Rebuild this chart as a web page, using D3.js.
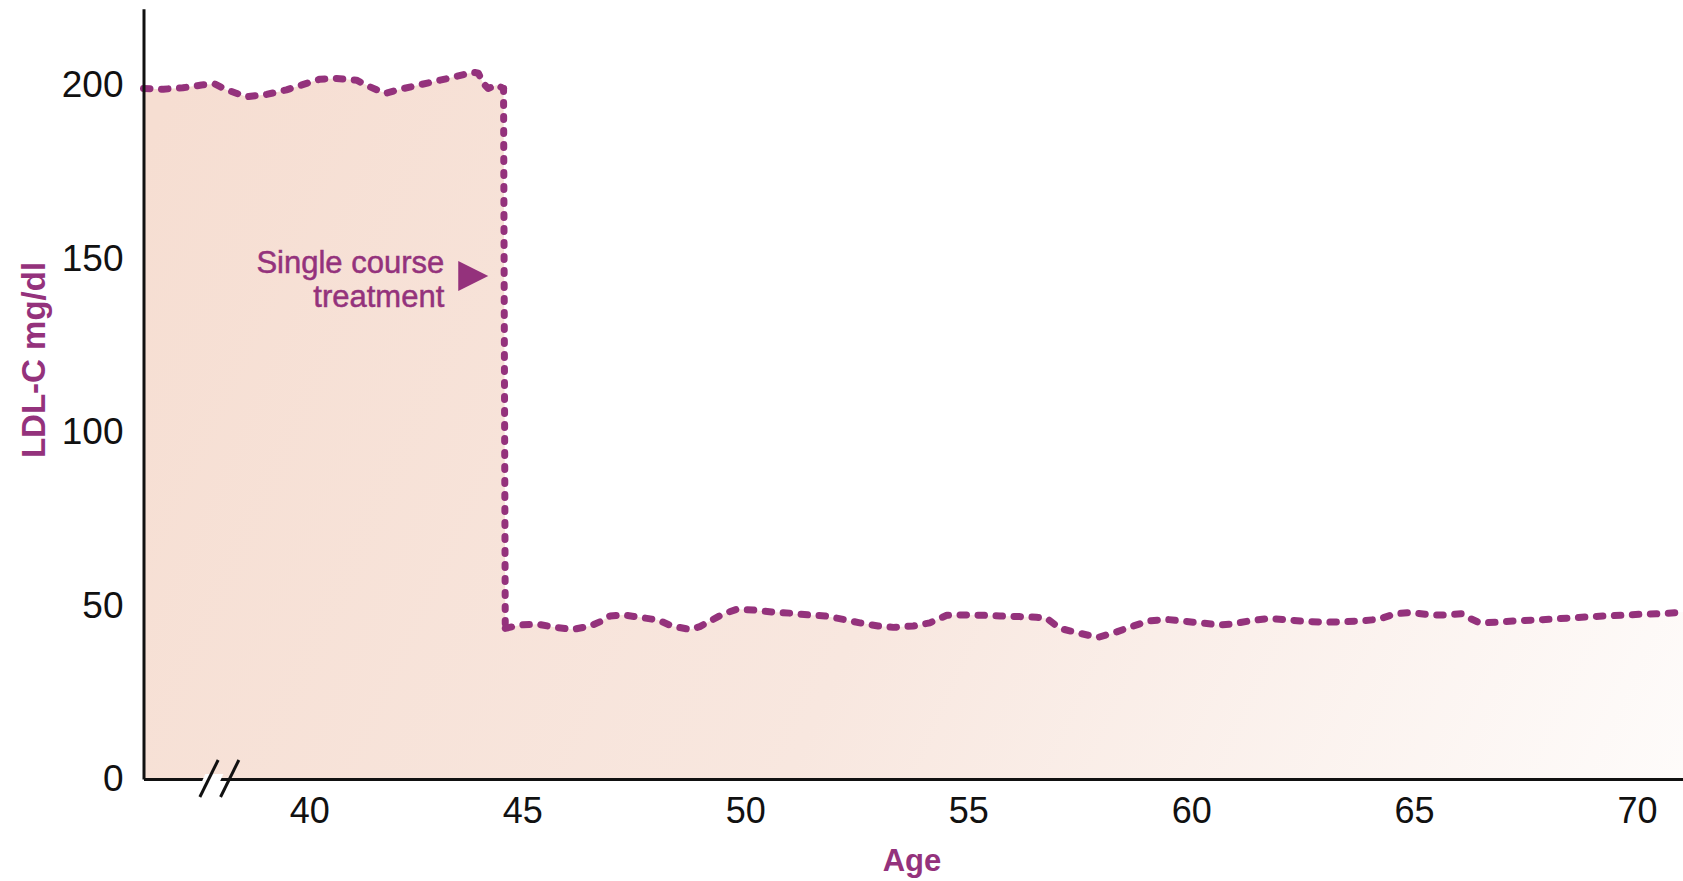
<!DOCTYPE html>
<html>
<head>
<meta charset="utf-8">
<script src="https://cdn.jsdelivr.net/npm/d3@7"></script>
<style>
  html, body { margin: 0; padding: 0; background: #ffffff; }
  svg { display: block; }
</style>
</head>
<body>
<svg id="chart" width="1683" height="881"></svg>
<script>
// ---- data ----
const xTicks = [40, 45, 50, 55, 60, 65, 70];
const yTicks = [0, 50, 100, 150, 200];
const xTitle = "Age";
const yTitle = "LDL-C mg/dl";
const noteLines = ["Single course", "treatment"];

// before treatment (age, LDL-C)
const preAges = [36.0, 36.48, 36.95, 37.4, 37.72, 38.01, 38.49, 38.97, 39.45, 39.86, 40.25, 40.64, 41.11, 41.42, 41.78, 42.21, 42.64, 43.07, 43.46, 43.85, 43.97, 44.08, 44.2, 44.4, 44.56];
const preLDL  = [199.0, 198.8, 199.2, 200.0, 200.3, 198.6, 196.6, 197.3, 198.6, 200.2, 201.7, 201.9, 201.4, 199.5, 197.6, 199.0, 200.2, 201.4, 202.5, 203.7, 203.4, 200.5, 199.0, 200.0, 199.0];

// after treatment (age, LDL-C)
const postAges = [44.6, 44.95, 45.36, 45.73, 46.14, 46.52, 46.74, 46.97, 47.26, 47.64, 48.05, 48.35, 48.76, 48.98, 49.25, 49.51, 49.81, 50.18, 50.63, 51.0, 51.41, 51.79, 52.2, 52.57, 52.98, 53.32, 53.77, 54.14, 54.52, 54.89, 55.34, 55.71, 56.16, 56.53, 56.76, 57.06, 57.5, 57.91, 58.33, 58.7, 59.07, 59.45, 59.9, 60.27, 60.64, 60.94, 61.32, 61.76, 62.21, 62.62, 63.0, 63.41, 63.82, 64.19, 64.57, 64.94, 65.35, 65.73, 66.06, 66.25, 66.47, 66.88, 67.3, 67.71, 68.12, 68.49, 68.87, 69.28, 69.69, 70.1, 70.48, 71.03];
const postLDL  = [43.4, 44.4, 44.6, 43.7, 43.1, 44.1, 45.3, 47.0, 47.3, 46.6, 45.8, 44.1, 43.1, 43.9, 45.8, 47.6, 48.9, 48.7, 48.1, 47.8, 47.3, 47.0, 46.0, 45.0, 44.1, 43.7, 44.1, 45.0, 47.2, 47.3, 47.2, 47.0, 46.8, 46.6, 46.3, 43.4, 42.0, 40.8, 42.4, 44.1, 45.6, 46.0, 45.4, 44.9, 44.4, 44.7, 45.6, 46.3, 45.8, 45.4, 45.2, 45.3, 45.6, 46.0, 47.6, 48.0, 47.3, 47.3, 47.6, 46.3, 45.0, 45.2, 45.6, 45.8, 46.1, 46.4, 46.7, 47.0, 47.2, 47.5, 47.6, 48.1];

const noteValue = 145;   // LDL-C level where the note arrow points
const breakAge = 37.83;  // axis break position

// ---- build ----
const purple = "#94327c";
const svg = d3.select("#chart");

// broken (polylinear) age axis
const x = d3.scaleLinear()
  .domain([36, 40, 45, 71.03])
  .range([143.5, 309.3, 522.3, 1683]);
const y = d3.scaleLinear()
  .domain([0, 222])
  .range([779, 8.7]);

const pre = preAges.map((a, i) => ({age: a, v: preLDL[i]}));
const post = postAges.map((a, i) => ({age: a, v: postLDL[i]}));
const all = pre.concat(post);

// gradient fill
const defs = svg.append("defs");
const grad = defs.append("linearGradient")
  .attr("id", "fillGrad")
  .attr("gradientUnits", "userSpaceOnUse")
  .attr("x1", x(36)).attr("y1", 150)
  .attr("x2", x(71.03)).attr("y2", 850);
grad.append("stop").attr("offset", "0%").attr("stop-color", "#f6ded2");
grad.append("stop").attr("offset", "50%").attr("stop-color", "#f8e7df");
grad.append("stop").attr("offset", "100%").attr("stop-color", "#fefcfb");

const area = d3.area()
  .x(d => x(d.age))
  .y0(y(0))
  .y1(d => y(d.v))
  .curve(d3.curveLinear);

svg.append("path")
  .datum(all)
  .attr("d", area)
  .attr("fill", "url(#fillGrad)");

// lines
const line = d3.line()
  .x(d => x(d.age))
  .y(d => y(d.v))
  .curve(d3.curveLinear);

const dashStyle = sel => sel
  .attr("fill", "none")
  .attr("stroke", purple)
  .attr("stroke-width", 7)
  .attr("stroke-linecap", "round")
  .attr("stroke-linejoin", "round");

svg.append("path")
  .datum(pre)
  .attr("d", line)
  .call(dashStyle)
  .attr("stroke-dasharray", "6.5 11.5");

const drop = [pre[pre.length - 1], post[0]];
svg.append("path")
  .datum(drop)
  .attr("d", line)
  .call(dashStyle)
  .attr("stroke-dasharray", "3 11");

svg.append("path")
  .datum(post)
  .attr("d", line)
  .call(dashStyle)
  .attr("stroke-dasharray", "6.5 11.5");

// axes
const tickFont = "'Liberation Sans', Arial, sans-serif";
const xAxis = d3.axisBottom(x)
  .tickValues(xTicks)
  .tickSize(0)
  .tickSizeOuter(0)
  .tickPadding(18)
  .tickFormat(d3.format("d"));
const gx = svg.append("g")
  .attr("transform", `translate(0,${y(0)})`)
  .call(xAxis);
gx.select(".domain").attr("stroke", "#111").attr("stroke-width", 3);
gx.selectAll("text")
  .attr("font-family", tickFont)
  .attr("font-size", 36)
  .attr("fill", "#111");

const yAxis = d3.axisLeft(y)
  .tickValues(yTicks)
  .tickSize(0)
  .tickSizeOuter(0)
  .tickPadding(20)
  .tickFormat(d3.format("d"));
const gy = svg.append("g")
  .attr("transform", `translate(${x(36)},0)`)
  .call(yAxis);
gy.select(".domain").attr("stroke", "#111").attr("stroke-width", 3);
gy.selectAll("text")
  .attr("font-family", tickFont)
  .attr("font-size", 37)
  .attr("fill", "#111");

// axis break marks
const bx = x(breakAge), by = y(0);
svg.append("polygon")
  .attr("points", [[bx - 14, by - 5], [bx + 4, by - 5], [bx - 1, by + 6], [bx - 19, by + 6]].map(p => p.join(",")).join(" "))
  .attr("fill", "#ffffff");
[[-19.5, -1.2], [1.2, 19.5]].forEach(([b, t]) => {
  svg.append("line")
    .attr("x1", bx + b).attr("y1", by + 18)
    .attr("x2", bx + t).attr("y2", by - 19)
    .attr("stroke", "#111")
    .attr("stroke-width", 3);
});

// axis titles
svg.append("text")
  .attr("x", 912)
  .attr("y", 871)
  .attr("text-anchor", "middle")
  .attr("font-family", tickFont)
  .attr("font-weight", "bold")
  .attr("font-size", 31)
  .attr("fill", purple)
  .text(xTitle);

svg.append("text")
  .attr("transform", "translate(45,360) rotate(-90)")
  .attr("text-anchor", "middle")
  .attr("font-family", tickFont)
  .attr("font-weight", "bold")
  .attr("font-size", 33)
  .attr("fill", purple)
  .text(yTitle);

// annotation
const tipX = x(post[0].age) - 17;
const tipY = y(noteValue);
svg.append("path")
  .attr("d", `M${tipX},${tipY} L${tipX - 30},${tipY - 15} L${tipX - 30},${tipY + 15} Z`)
  .attr("fill", purple);

const note = svg.append("text")
  .attr("text-anchor", "end")
  .attr("font-family", tickFont)
  .attr("font-size", 31)
  .attr("stroke", purple)
  .attr("stroke-width", 0.5)
  .attr("fill", purple);
noteLines.forEach((t, i) => {
  note.append("tspan")
    .attr("x", tipX - 44)
    .attr("y", tipY - 3 + i * 34)
    .text(t);
});
</script>
</body>
</html>
